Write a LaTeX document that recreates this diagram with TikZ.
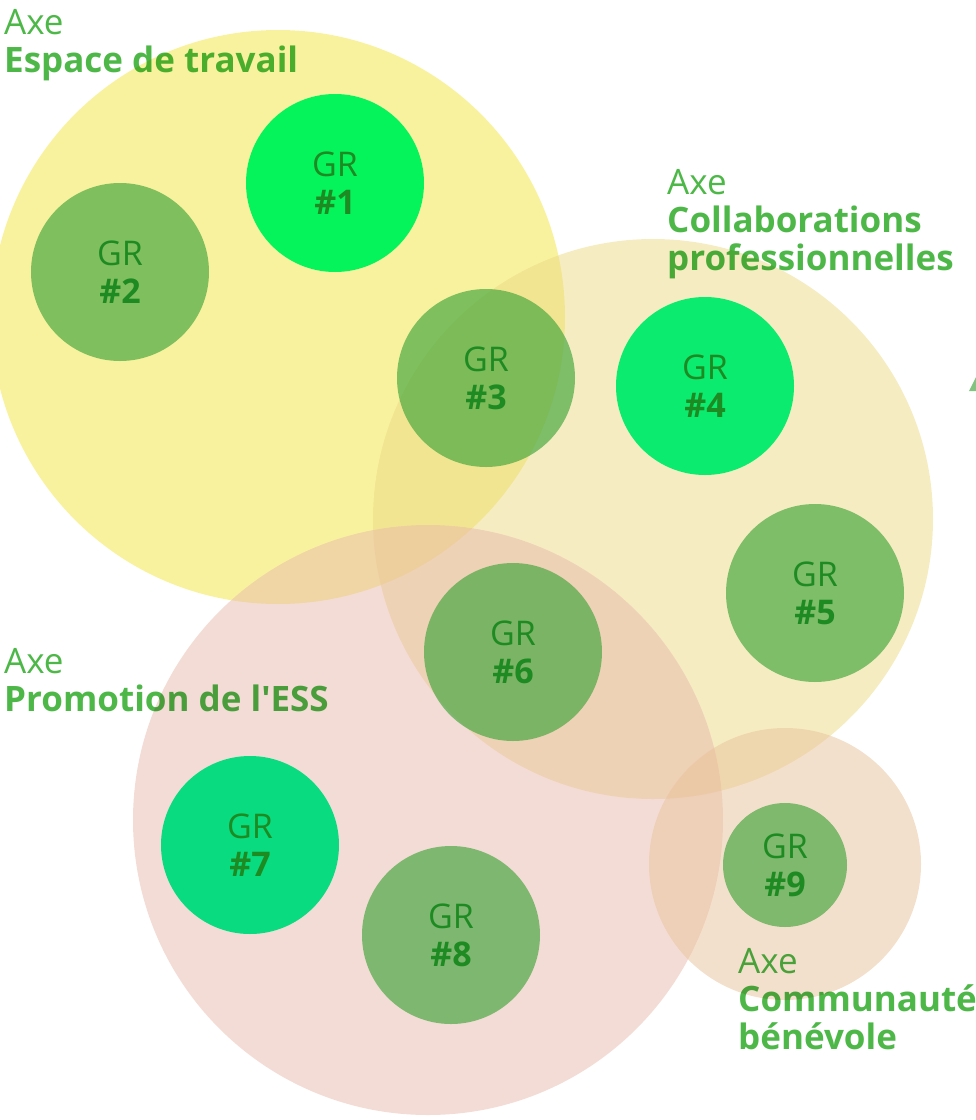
\documentclass[tikz,border=0pt]{standalone}
\usepackage{fontspec}
\setmainfont{Open Sans}[Ligatures=TeXOff]
\usepackage{tikz}
\usetikzlibrary{backgrounds,calc}
\definecolor{axegreen}{HTML}{4DB848}
\definecolor{grtext}{HTML}{1E8A22}
\definecolor{grmid}{HTML}{3FA53A}
\definecolor{grone}{HTML}{06F45B}
\definecolor{grfour}{HTML}{0AEB6F}
\definecolor{grseven}{HTML}{08DB80}
\definecolor{axeyellow}{HTML}{F2E640}
\definecolor{axebeige}{HTML}{ECD985}
\definecolor{axepink}{HTML}{E8B9AB}
\definecolor{axetan}{HTML}{E8C29A}
\tikzset{
  axelabel/.style={anchor=base west, inner sep=0pt, text=axegreen, align=left,
    font=\fontsize{35}{38}\selectfont},
  axecircle/.style={circle, inner sep=0pt, minimum size=#1, fill opacity=.5},
  grcircle/.style={circle, inner sep=0pt, minimum size=178pt, align=center,
    text=grtext, font=\fontsize{34}{38}\selectfont},
  grsoft/.style={grcircle, fill=grmid, fill opacity=.65, text opacity=1}
}
\begin{document}
\begin{tikzpicture}[x=1pt,y=-1pt]
\path[use as bounding box] (0,0) rectangle (976,1120);
% axes
\node[axecircle=574pt, fill=axeyellow] (espace) at (278,317) {};
\node[axecircle=560pt, fill=axebeige] (collab) at (653,519) {};
\node[axecircle=590pt, fill=axepink] (promo) at (428,820) {};
\node[axecircle=272pt, fill=axetan] (commu) at (785,864) {};
% axis labels, multiplied onto the circles, placed on their last line
\begin{scope}[blend mode=multiply]
\node[axelabel] (lblespace) at (4,72) {Axe\\\textbf{Espace de travail}};
\node[axelabel] (lblcollab) at (667,270) {Axe\\\textbf{Collaborations}\\\textbf{professionnelles}};
\node[axelabel] (lblpromo) at (4,711) {Axe\\\textbf{Promotion de l'ESS}};
\node[axelabel] (lblcommu) at (738,1049) {Axe\\\textbf{Communauté}\\\textbf{bénévole}};
\end{scope}
% groupes
\node[grcircle, fill=grone] (gr1) at (335,183) {GR\\\textbf{\#1}};
\node[grsoft] (gr2) at (120,272) {GR\\\textbf{\#2}};
\node[grsoft] (gr3) at (486,378) {GR\\\textbf{\#3}};
\node[grcircle, fill=grfour] (gr4) at (705,386) {GR\\\textbf{\#4}};
\node[grsoft] (gr5) at (815,593) {GR\\\textbf{\#5}};
\node[grsoft] (gr6) at (513,652) {GR\\\textbf{\#6}};
\node[grcircle, fill=grseven] (gr7) at (250,845) {GR\\\textbf{\#7}};
\node[grsoft] (gr8) at (451,935) {GR\\\textbf{\#8}};
\node[grsoft, minimum size=124pt] (gr9) at (785,865) {GR\\\textbf{\#9}};
% bout de fleche coupe au bord
\fill[grmid, fill opacity=.65] (969,391) -- (976,377) -- (976,391) -- cycle;
\end{tikzpicture}
\end{document}
